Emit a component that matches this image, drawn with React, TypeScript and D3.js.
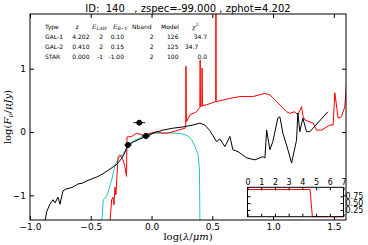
import React, { useEffect, useRef } from 'react';
import * as d3 from 'd3';

// model spectra, log(lambda/um) vs log(F/uJy)
const blackX = [-0.877, -0.863, -0.836, -0.811, -0.794, -0.77, -0.753, -0.729, -0.704, -0.671, -0.646, -0.605, -0.572, -0.531, -0.49, -0.449, -0.4, -0.342, -0.285, -0.243, -0.219, -0.194, -0.153, -0.095, -0.054, 0.012, 0.094, 0.176, 0.258, 0.34, 0.398, 0.439, 0.48, 0.535, 0.562, 0.604, 0.645, 0.669, 0.711, 0.785, 0.85, 0.916, 0.933, 0.947, 0.974, 0.998, 1.039, 1.056, 1.081, 1.122, 1.152, 1.193, 1.204, 1.22, 1.245, 1.275, 1.303, 1.451];
const blackY = [-1.42, -1.26, -1.14, -1.07, -1.12, -1.03, -1.14, -0.93, -0.9, -0.885, -0.87, -0.82, -0.81, -0.77, -0.74, -0.71, -0.66, -0.585, -0.51, -0.41, -0.32, -0.22, -0.16, -0.11, -0.08, -0.02, 0.03, 0.06, 0.08, 0.11, 0.14, 0.11, 0.02, -0.15, -0.11, -0.23, -0.07, -0.28, -0.31, -0.41, -0.44, -0.39, -0.41, 0.03, -0.28, -0.15, 0.22, 0.24, -0.02, -0.28, -0.49, -0.13, 0.3, 0.005, 0.22, 0.005, 0.005, 0.32];

const redX = [-0.342, -0.328, -0.317, -0.309, -0.301, -0.293, -0.276, -0.26, -0.235, -0.219, -0.206, -0.202, -0.164, -0.123, -0.068, -0.013, 0.042, 0.094, 0.151, 0.206, 0.275, 0.281, 0.283, 0.287, 0.316, 0.371, 0.398, 0.4, 0.402, 0.406, 0.414, 0.416, 0.419, 0.423, 0.453, 0.528, 0.53, 0.532, 0.645, 0.727, 0.834, 0.933, 0.974, 1.029, 1.07, 1.111, 1.138, 1.179, 1.204, 1.234, 1.248, 1.262, 1.33, 1.357, 1.399, 1.467, 1.494, 1.508, 1.535, 1.563, 1.59, 1.607];
const redY = [-1.42, -1.07, -1.03, -1.15, -0.87, -0.99, -0.4, -0.36, -0.44, -0.55, -0.7, -0.08, -0.07, -0.02, -0.05, -0.02, 0.005, -0.02, -0.01, 0.02, 0.06, 0.08, 1.04, 0.16, 0.27, 0.32, 0.39, 1.14, 0.4, 0.41, 0.41, 1.01, 0.41, 0.42, 0.43, 0.48, 2.3, 0.48, 0.53, 0.56, 0.56, 0.61, 0.585, 0.48, 0.4, 0.32, 0.295, 0.32, 0.27, 0.4, 0.24, 0.19, 0.14, 0.03, 0.03, 0.11, 0.11, 0.62, 0.22, 0.24, 0.4, 0.82];

const cyanX = [-0.41, -0.397, -0.369, -0.328, -0.301, -0.276, -0.26, -0.235, -0.205, -0.178, -0.153, -0.071, 0.012, 0.094, 0.176, 0.258, 0.299, 0.332, 0.357, 0.384, 0.394, 0.398];
const cyanY = [-1.42, -1.07, -1.02, -0.76, -0.52, -0.44, -0.39, -0.36, -0.24, -0.17, -0.15, -0.07, -0.02, -0.016, -0.016, -0.03, -0.06, -0.13, -0.23, -0.36, -0.6, -1.42];

// observed photometry
const obsX = [-0.194, -0.101, -0.046];
const obsY = [-0.205, 0.147, -0.063];
const obsXErr = [0.03, 0.048, 0.035];
const obsYErr = [0.04, 0.02, 0.05];

// P(z) inset
const pzZ = [0, 0, 4.56, 4.73, 7];
const pzP = [0, 1, 1, 0, 0];

const xTicks = [-1.0, -0.5, 0.0, 0.5, 1.0, 1.5];
const yTicks = [-1, 0, 1];
const pzTicksX = [0, 1, 2, 3, 4, 5, 6, 7];
const pzTicksY = [0.25, 0.5, 0.75];

// fit table
const tableTypes = ['GAL-1', 'GAL-2', 'STAR'];
const tableZ = ['4.202', '0.410', '0.000'];
const tableElaw = ['2', '2', '-1'];
const tableEbv = ['0.10', '0.15', '-1.00'];
const tableNband = ['2', '2', '2'];
const tableModel = ['126', '125', '100'];
const tableChi2 = ['34.7', '34.7', '0.0'];

const title = 'ID:  140   , zspec=-99.000 , zphot=4.202';

const App: React.FC = () => {
  const ref = useRef<SVGSVGElement>(null);

  useEffect(() => {
    const svg = d3.select(ref.current);
    svg.selectAll('*').remove();
    const font = 'DejaVu Sans';

    const left = 30, right = 346, top = 14, bottom = 220;
    const x = d3.scaleLinear().domain([-1, 1.6]).range([left, right]);
    const y = d3.scaleLinear().domain([-1.39, 1.864]).range([bottom, top]);

    svg.append('rect').attr('width', 368).attr('height', 245).attr('fill', '#fff');

    const defs = svg.append('defs');
    defs.append('clipPath').attr('id', 'plotclip')
      .append('rect').attr('x', left).attr('y', top).attr('width', right - left).attr('height', bottom - top);

    const plot = svg.append('g').attr('clip-path', 'url(#plotclip)');
    const line = d3.line<number>();

    const drawSeries = (xs: number[], ys: number[], color: string) => {
      plot.append('path')
        .attr('d', line.x((_, i) => x(xs[i])).y((_, i) => y(ys[i]))(xs))
        .attr('fill', 'none')
        .attr('stroke', color)
        .attr('stroke-width', 1)
        .attr('stroke-linejoin', 'round');
    };
    drawSeries(cyanX, cyanY, '#22c4c4');
    drawSeries(redX, redY, '#ff0000');
    drawSeries(blackX, blackY, '#000');

    // photometry points with errorbars
    obsX.forEach((ox, i) => {
      const g = plot.append('g').attr('stroke', '#000').attr('stroke-width', 1);
      g.append('line').attr('x1', x(ox - obsXErr[i])).attr('x2', x(ox + obsXErr[i]))
        .attr('y1', y(obsY[i])).attr('y2', y(obsY[i]));
      g.append('line').attr('x1', x(ox)).attr('x2', x(ox))
        .attr('y1', y(obsY[i] - obsYErr[i])).attr('y2', y(obsY[i] + obsYErr[i]));
      g.append('circle').attr('cx', x(ox)).attr('cy', y(obsY[i])).attr('r', 2.5).attr('fill', '#000');
    });

    // axes, ticks inward
    const styleAxis = (g: d3.Selection<SVGGElement, unknown, null, undefined>, size: number) => {
      g.select('.domain').remove();
      g.selectAll('text').attr('font-family', font).attr('font-size', size).attr('fill', '#000');
      g.selectAll('line').attr('stroke', '#000');
    };
    const fmtX = d3.format('.1f');
    styleAxis(svg.append('g').attr('transform', `translate(0,${bottom})`)
      .call(d3.axisBottom(x).tickValues(xTicks).tickFormat(d => fmtX(d as number)).tickSize(-4).tickPadding(4)), 9);
    styleAxis(svg.append('g').attr('transform', `translate(0,${top})`)
      .call(d3.axisTop(x).tickValues(xTicks).tickFormat(() => '').tickSize(-4)), 9);
    styleAxis(svg.append('g').attr('transform', `translate(${left},0)`)
      .call(d3.axisLeft(y).tickValues(yTicks).tickFormat(d3.format('d')).tickSize(-4).tickPadding(4)), 9);
    styleAxis(svg.append('g').attr('transform', `translate(${right},0)`)
      .call(d3.axisRight(y).tickValues(yTicks).tickFormat(() => '').tickSize(-4)), 9);

    svg.append('rect').attr('x', left).attr('y', top).attr('width', right - left).attr('height', bottom - top)
      .attr('fill', 'none').attr('stroke', '#000').attr('stroke-width', 1);

    // title and axis labels
    svg.append('text').attr('x', (left + right) / 2).attr('y', 12).attr('text-anchor', 'middle')
      .attr('font-family', font).attr('font-size', 10).style('white-space', 'pre').text(title);

    const xl = svg.append('text').attr('x', (left + right) / 2).attr('y', 240).attr('text-anchor', 'middle')
      .attr('font-family', 'DejaVu Serif').attr('font-size', 10);
    xl.append('tspan').text('log(');
    xl.append('tspan').attr('font-style', 'italic').text('λ');
    xl.append('tspan').text('/');
    xl.append('tspan').attr('font-style', 'italic').text('μm');
    xl.append('tspan').text(')');

    const yl = svg.append('text').attr('transform', `translate(11,${(top + bottom) / 2}) rotate(-90)`)
      .attr('text-anchor', 'middle').attr('font-family', 'DejaVu Serif').attr('font-size', 10);
    yl.append('tspan').text('log(');
    yl.append('tspan').attr('font-style', 'italic').text('F');
    yl.append('tspan').attr('font-style', 'italic').attr('font-size', 7).attr('dy', 2).text('ν');
    yl.append('tspan').attr('dy', -2).text('/');
    yl.append('tspan').attr('font-style', 'italic').text('μJy');
    yl.append('tspan').text(')');

    // table of fits
    const tf = 6;
    const tg = svg.append('g').attr('font-family', font).attr('font-size', tf).attr('fill', '#000');
    const hy = 28.5;
    tg.append('text').attr('x', 45).attr('y', hy).text('Type');
    tg.append('text').attr('x', 77).attr('y', hy).attr('text-anchor', 'middle').text('z');
    const el = tg.append('text').attr('x', 92).attr('y', hy).attr('font-family', 'DejaVu Serif');
    el.append('tspan').attr('font-style', 'italic').text('E');
    el.append('tspan').attr('font-style', 'italic').attr('font-size', 4.5).attr('dy', 1.5).text('LAW');
    const eb = tg.append('text').attr('x', 113).attr('y', hy).attr('font-family', 'DejaVu Serif');
    eb.append('tspan').attr('font-style', 'italic').text('E');
    eb.append('tspan').attr('font-style', 'italic').attr('font-size', 4.5).attr('dy', 1.5).text('B−V');
    tg.append('text').attr('x', 132).attr('y', hy).text('Nband');
    tg.append('text').attr('x', 161).attr('y', hy).text('Model');
    const ch = tg.append('text').attr('x', 192).attr('y', hy).attr('font-family', 'DejaVu Serif');
    ch.append('tspan').attr('font-style', 'italic').text('χ');
    ch.append('tspan').attr('font-size', 4.5).attr('dy', -3).text('2');

    tableTypes.forEach((t, i) => {
      const ry = 39 + i * 10;
      tg.append('text').attr('x', 45).attr('y', ry).text(t);
      tg.append('text').attr('x', 89.5).attr('y', ry).attr('text-anchor', 'end').text(tableZ[i]);
      tg.append('text').attr('x', 103).attr('y', ry).attr('text-anchor', 'end').text(tableElaw[i]);
      tg.append('text').attr('x', 124).attr('y', ry).attr('text-anchor', 'end').text(tableEbv[i]);
      tg.append('text').attr('x', 153.5).attr('y', ry).attr('text-anchor', 'end').text(tableNband[i]);
      tg.append('text').attr('x', 178.5).attr('y', ry).attr('text-anchor', 'end').text(tableModel[i]);
      // the second chi2 entry sits left in the original table
      if (i === 1) tg.append('text').attr('x', 185).attr('y', ry).text(tableChi2[i]);
      else tg.append('text').attr('x', 207).attr('y', ry).attr('text-anchor', 'end').text(tableChi2[i]);
    });

    // P(z) inset
    const il = 247.5, ir = 343.5, it = 187.3, ib = 216.7;
    const px = d3.scaleLinear().domain([0, 7]).range([il, ir]);
    const py = d3.scaleLinear().domain([0, 1.08]).range([ib, it]);
    svg.append('rect').attr('x', il).attr('y', it).attr('width', ir - il).attr('height', ib - it).attr('fill', '#fff');
    defs.append('clipPath').attr('id', 'insetclip')
      .append('rect').attr('x', il - 1).attr('y', it).attr('width', ir - il + 2).attr('height', ib - it + 1);
    svg.append('path')
      .attr('clip-path', 'url(#insetclip)')
      .attr('d', d3.line<number>().x((_, i) => px(pzZ[i])).y((_, i) => py(pzP[i]))(pzZ))
      .attr('fill', 'none').attr('stroke', '#ff0000').attr('stroke-width', 1);

    styleAxis(svg.append('g').attr('transform', `translate(0,${it})`)
      .call(d3.axisTop(px).tickValues(pzTicksX).tickFormat(d3.format('d')).tickSize(-3).tickPadding(2)), 8);
    styleAxis(svg.append('g').attr('transform', `translate(0,${ib})`)
      .call(d3.axisBottom(px).tickValues(pzTicksX).tickFormat(() => '').tickSize(-3)), 8);
    styleAxis(svg.append('g').attr('transform', `translate(${ir},0)`)
      .call(d3.axisRight(py).tickValues(pzTicksY).tickFormat(d3.format('.2f')).tickSize(-3).tickPadding(2)), 8);
    styleAxis(svg.append('g').attr('transform', `translate(${il},0)`)
      .call(d3.axisLeft(py).tickValues(pzTicksY).tickFormat(() => '').tickSize(-3)), 8);
    svg.append('rect').attr('x', il).attr('y', it).attr('width', ir - il).attr('height', ib - it)
      .attr('fill', 'none').attr('stroke', '#000').attr('stroke-width', 1);
  }, []);

  return (
    <div style={{ position: 'absolute', left: 0, top: 0 }}>
      <svg ref={ref} width={368} height={245}></svg>
    </div>
  );
};

export default App;
